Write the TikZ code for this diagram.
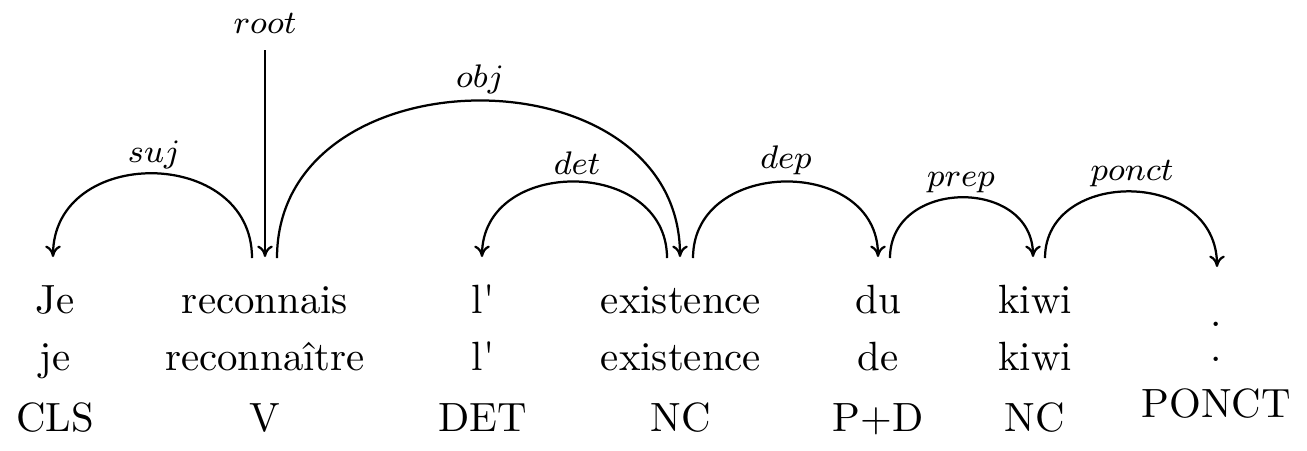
\documentclass[tikz,border=0pt]{standalone}
\usetikzlibrary{arrows.meta}
\begin{document}
\begin{tikzpicture}[x=0.2448pt,y=-0.2448pt,
  word/.style={anchor=base,inner sep=0pt},
  lab/.style={anchor=base,inner sep=0pt,font=\footnotesize},
  deparc/.style={-{To[length=2.8pt,width=3.8pt]},line width=0.55pt}]
\useasboundingbox (0,0) rectangle (1307,450);
% words
\node[word] (w1) at (55,313) {Je};
\node[word] (l1) at (55,370) {je};
\node[word] (t1) at (55,431) {CLS};
\node[word] (w2) at (265,313) {reconnais};
\node[word] (l2) at (265,370) {reconnaître};
\node[word] (t2) at (265,431) {V};
\node[word] (w3) at (483,313) {l\textquotesingle};
\node[word] (l3) at (483,370) {l\textquotesingle};
\node[word] (t3) at (483,431) {DET};
\node[word] (w4) at (681,313) {existence};
\node[word] (l4) at (681,370) {existence};
\node[word] (t4) at (681,431) {NC};
\node[word] (w5) at (878,313) {du};
\node[word] (l5) at (878,370) {de};
\node[word] (t5) at (878,431) {P+D};
\node[word] (w6) at (1035,313) {kiwi};
\node[word] (l6) at (1035,370) {kiwi};
\node[word] (t6) at (1035,431) {NC};
\node[word] (w7) at (1216,326) {.};
\node[word] (l7) at (1216,361) {.};
\node[word] (t7) at (1216,417) {PONCT};
% arc end points
\coordinate (rootA) at (265,50);
\coordinate (rootB) at (265,257);
\coordinate (sujA) at (252,258);
\coordinate (sujB) at (53,257);
\coordinate (objA) at (277,258);
\coordinate (objB) at (680,257);
\coordinate (detA) at (667,258);
\coordinate (detB) at (482,257);
\coordinate (depA) at (693,258);
\coordinate (depB) at (878,257);
\coordinate (prepA) at (890,258);
\coordinate (prepB) at (1033,257);
\coordinate (ponA) at (1045,258);
\coordinate (ponB) at (1217,267);
% arcs
\draw[deparc] (rootA) -- (rootB);
\draw[deparc] (sujA) .. controls +(0,-112) and +(0,-112) .. (sujB);
\draw[deparc] (objA) .. controls +(0,-209) and +(0,-209) .. (objB);
\draw[deparc] (detA) .. controls +(0,-101) and +(0,-101) .. (detB);
\draw[deparc] (depA) .. controls +(0,-101) and +(0,-101) .. (depB);
\draw[deparc] (prepA) .. controls +(0,-80) and +(0,-80) .. (prepB);
\draw[deparc] (ponA) .. controls +(0,-90) and +(0,-99) .. (ponB);
% labels
\node[lab] (Lroot) at (265,33) {$root$};
\node[lab] (Lsuj) at (154,162) {$suj$};
\node[lab] (Lobj) at (480,87) {$obj$};
\node[lab] (Ldet) at (577,174) {$det$};
\node[lab] (Ldep) at (786,168) {$dep$};
\node[lab] (Lprep) at (961,186) {$prep$};
\node[lab] (Lponct) at (1132,180) {$ponct$};
\end{tikzpicture}
\end{document}
